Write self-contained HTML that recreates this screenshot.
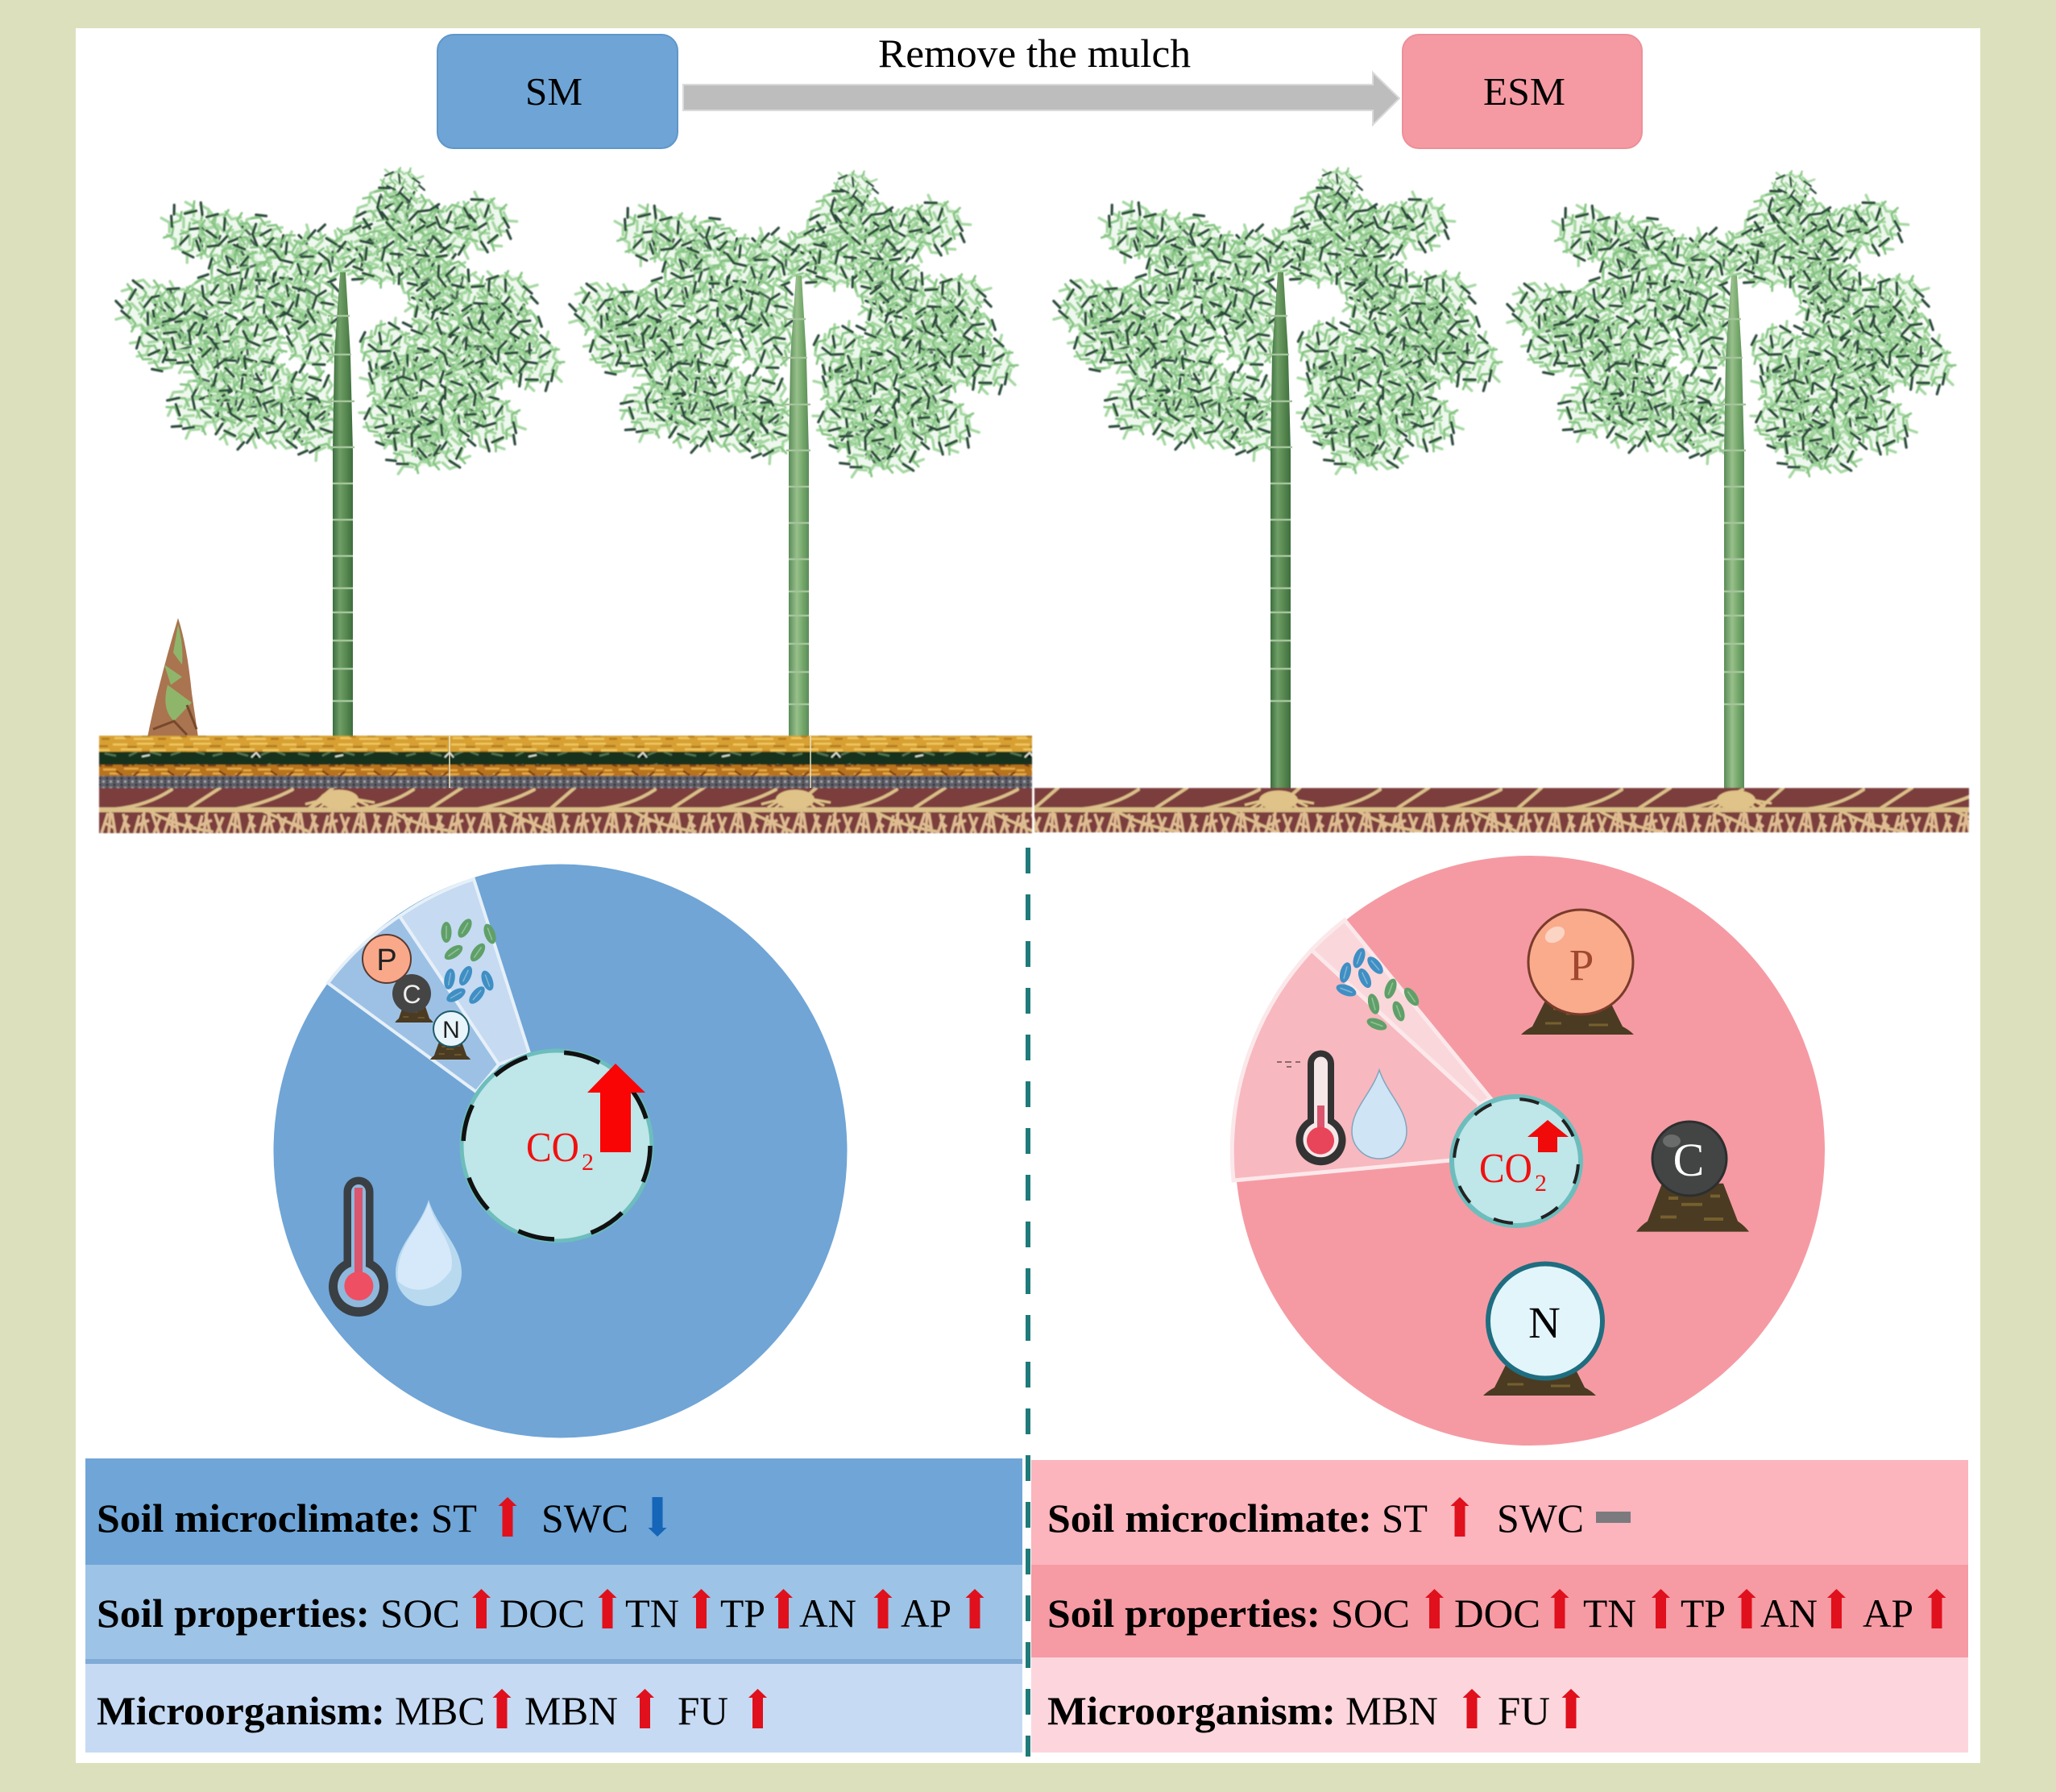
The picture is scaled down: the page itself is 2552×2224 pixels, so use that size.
<!DOCTYPE html>
<html lang="en"><head><meta charset="utf-8"><title>SM and ESM soil diagram</title>
<style>html,body{margin:0;padding:0;background:#dce0bc}svg{display:block}
text{font-family:"Liberation Serif",serif}
.b{font-weight:bold}.sf{font-family:"Liberation Sans",sans-serif}</style></head><body>
<svg xmlns="http://www.w3.org/2000/svg" width="2552" height="2224" viewBox="0 0 2552 2224">
<defs>
<filter id="bl" x="-5%" y="-5%" width="110%" height="110%"><feGaussianBlur stdDeviation=".7"/></filter>
<linearGradient id="tg" x1="0" x2="1" y1="0" y2="0"><stop offset="0" stop-color="#3c6d3e"/><stop offset=".35" stop-color="#6f9f67"/><stop offset=".7" stop-color="#55864e"/><stop offset="1" stop-color="#3c6d3e"/></linearGradient>
<linearGradient id="tg2" x1="0" x2="1" y1="0" y2="0"><stop offset="0" stop-color="#5a8b58"/><stop offset=".4" stop-color="#98c08c"/><stop offset=".7" stop-color="#74a76a"/><stop offset="1" stop-color="#5a8b58"/></linearGradient>
<pattern id="py" width="70" height="20" patternUnits="userSpaceOnUse"><rect width="70" height="20" fill="#d8a030"/><path stroke="#efc860" stroke-width="2.500" d="M0 4h18M30 3h22M10 10h26M46 11h20M2 16h14M26 17h24"/><path stroke="#b07a20" stroke-width="2.500" d="M18 7h12M50 6h14M36 13h10M14 14h8M56 17h10"/></pattern>
<pattern id="pd" width="240" height="16" patternUnits="userSpaceOnUse"><rect width="240" height="16" fill="#17321c"/><path stroke="#4f7450" stroke-width="2.500" d="M4 5l10 3M24 10l12-3M54 6l14 4M84 9l12-5M104 5l10 4M130 7l14 3M160 10l10-5M186 5l14 4M212 9l12-4"/><path stroke="#dfe5d6" stroke-width="2" d="M72 12l6-6l5 6M176 11l10-2"/></pattern>
<pattern id="po" width="64" height="14" patternUnits="userSpaceOnUse"><rect width="64" height="14" fill="#b8731f"/><path stroke="#e8ae44" stroke-width="2.500" d="M0 3h16M26 2h18M8 8h14M36 9h22M46 4h10"/><path stroke="#7a3c12" stroke-width="2.500" d="M16 5l8 5M44 6l-8 6M2 12h10M24 12h8M56 11l6 2"/></pattern>
<pattern id="pg" width="9" height="8" patternUnits="userSpaceOnUse"><rect width="9" height="8" fill="#5f5f68"/><circle cx="2.500" cy="2" r="1.600" fill="#a4a4aa"/><circle cx="7" cy="6" r="1.600" fill="#34343c"/><circle cx="7" cy="2" r="1" fill="#2e2e36"/></pattern>
<pattern id="pr" width="300" height="56" patternUnits="userSpaceOnUse" patternTransform="translate(123,978)"><rect width="300" height="56" fill="#7c3e3c"/><g fill="none" stroke="#dcc08a" stroke-linecap="round"><path stroke-width="6" d="M0 27H300"/><path stroke-width="4" d="M20 26Q60 22 90 2M110 26L150 0M170 26Q210 18 240 2M260 26L290 0"/><path stroke-width="3.500" d="M200 27Q230 40 260 54M60 27Q90 46 140 54"/></g></pattern>
<pattern id="pr2" width="78" height="26" patternUnits="userSpaceOnUse" patternTransform="translate(123,1008)"><path fill="none" stroke="#e0bc92" stroke-width="3.400" d="M3 26L11 1M12 26L14 0M20 26L16 1M27 26L35 4M36 26L30 2M8 14L20 20M30 12L38 18M44 26L50 4M52 26L56 0M60 26L54 2M68 26L76 6M74 26L66 2M48 16L62 10"/></pattern>
<path id="chv" d="M-30-24l10 6l10-6M-8-28l10 6l10-6M14-24l10 6l10-6M-34-6l10 6l10-6M-12-10l10 6l10-6M10-6l10 6l10-6M-28 10l10 6l10-6M-6 8l10 6l10-6M16 12l10 6l10-6M-20 26l10 6l10-6M4 26l10 6l10-6"/>
<g id="p1" fill="none" stroke-linecap="round">
<circle r="28" fill="#b5deb0" fill-opacity=".22" stroke="none"/>
<use href="#chv" stroke="#a6d8a2" stroke-width="3.400"/>
<use href="#chv" stroke="#86c483" stroke-width="3" transform="rotate(70) scale(.92)"/>
<path stroke="#2b4a3a" stroke-width="3.200" d="M-28-14l12-8M-6-20l4 14M18-18l12 6M-22 2l14 4M4 0l-6 14M24 4l-4 14M-14 20l12-6M12 22l14 6M-30 18l8 10M30-8l10 6"/>
</g>
<g id="crown" filter="url(#bl)">
<use href="#p1" transform="translate(497,232) rotate(10) scale(.75)"/><use href="#p1" transform="translate(478,268) rotate(130)"/><use href="#p1" transform="translate(512,275) rotate(200)"/>
<use href="#p1" transform="translate(600,275) rotate(35)"/><use href="#p1" transform="translate(560,285) rotate(95)"/><use href="#p1" transform="translate(522,312) rotate(300)"/>
<use href="#p1" transform="translate(628,368) rotate(15)"/><use href="#p1" transform="translate(590,380) rotate(250)"/><use href="#p1" transform="translate(600,410) rotate(95)"/><use href="#p1" transform="translate(638,412) rotate(200)"/>
<use href="#p1" transform="translate(665,447) rotate(75)"/><use href="#p1" transform="translate(622,447) rotate(160)"/><use href="#p1" transform="translate(578,440) rotate(20)"/><use href="#p1" transform="translate(538,435) rotate(280)"/>
<use href="#p1" transform="translate(612,522) rotate(50)"/><use href="#p1" transform="translate(568,510) rotate(190)"/><use href="#p1" transform="translate(524,522) rotate(110)"/><use href="#p1" transform="translate(484,518) rotate(330)"/><use href="#p1" transform="translate(550,548) rotate(10)"/><use href="#p1" transform="translate(580,480) rotate(305)"/><use href="#p1" transform="translate(515,552) rotate(155)"/>
<use href="#p1" transform="translate(520,468) rotate(140)"/><use href="#p1" transform="translate(482,432) rotate(65)"/><use href="#p1" transform="translate(488,476) rotate(225)"/><use href="#p1" transform="translate(540,395) rotate(175)"/>
<use href="#p1" transform="translate(440,312) rotate(305)"/><use href="#p1" transform="translate(478,322) rotate(170)"/><use href="#p1" transform="translate(530,345) rotate(40)"/><use href="#p1" transform="translate(555,352) rotate(120)"/>
<use href="#p1" transform="translate(238,288) rotate(240)"/><use href="#p1" transform="translate(278,292) rotate(20)"/><use href="#p1" transform="translate(322,302) rotate(135)"/><use href="#p1" transform="translate(362,322) rotate(80)"/><use href="#p1" transform="translate(395,318) rotate(285)"/><use href="#p1" transform="translate(295,335) rotate(55)"/>
<use href="#p1" transform="translate(183,382) rotate(195)"/><use href="#p1" transform="translate(225,385) rotate(30)"/><use href="#p1" transform="translate(265,375) rotate(110)"/><use href="#p1" transform="translate(200,425) rotate(320)"/><use href="#p1" transform="translate(240,425) rotate(150)"/><use href="#p1" transform="translate(282,420) rotate(60)"/>
<use href="#p1" transform="translate(320,372) rotate(255)"/><use href="#p1" transform="translate(360,375) rotate(5)"/><use href="#p1" transform="translate(392,382) rotate(175)"/><use href="#p1" transform="translate(322,425) rotate(90)"/><use href="#p1" transform="translate(388,425) rotate(215)"/>
<use href="#p1" transform="translate(245,505) rotate(145)"/><use href="#p1" transform="translate(290,488) rotate(340)"/><use href="#p1" transform="translate(335,478) rotate(45)"/><use href="#p1" transform="translate(380,492) rotate(270)"/><use href="#p1" transform="translate(300,518) rotate(100)"/><use href="#p1" transform="translate(392,530) rotate(125)"/><use href="#p1" transform="translate(270,458) rotate(210)"/><use href="#p1" transform="translate(350,522) rotate(15)"/>
</g>
<g id="trunk"><path d="M422 338L429 338L435 440L438 560L438 915L413 915L413 560L415 440Z"/><path stroke="#a4c49b" stroke-width="2.500" fill="none" d="M407 392h27M405 440h31M407 498h33M410 555h30M413 600h25M413 645h25M413 690h25M413 730h25M413 760h25M413 795h25M413 830h25M413 870h25"/></g>
<g id="ua"><path d="M0 0L11.500 11H6.500V49H-6.500V11H-11.500Z" fill="#e0101c"/></g>
<g id="mound"><path d="M-70 22Q-64 16 -56 12L-38-24H38L56 12Q64 16 70 22Z" fill="#4b3b22"/><path stroke="#75602f" stroke-width="3" d="M-40 8h20M-14-4h26M14 10h24M-30-10h12M22-12h12"/></g>
<g id="bug"><ellipse rx="13" ry="6.500"/><path stroke="#ffffff" stroke-opacity=".35" stroke-width="1.500" d="M-8 0H8"/></g>
<g id="tuft" fill="none" stroke="#dfc388" stroke-width="3"><ellipse cx="0" cy="0" rx="24" ry="12" fill="#dfc388" stroke="none"/><path d="M0-10L-34 10M0-10L-26 12M0-10L-14 14M0-10V14M0-10L14 14M0-10L26 12M0-10L36 8M-10-2L-42 6M10-2L44 4"/></g>
</defs>

<rect width="2552" height="2224" fill="#dce0bc"/>
<rect x="94" y="35" width="2364" height="2153" fill="#fff"/>

<!-- header -->
<rect x="543" y="43" width="298" height="141" rx="20" fill="#6fa5d6" stroke="#5f97c9" stroke-width="2"/>
<rect x="1741" y="43" width="297" height="141" rx="20" fill="#f59aa3" stroke="#ec8f99" stroke-width="2"/>
<path d="M848 105H1704V90L1737 122L1704 155V137H848Z" fill="#bdbdbd" stroke="#dadada" stroke-width="2"/>
<text x="652" y="130" font-size="49" textLength="71" lengthAdjust="spacingAndGlyphs">SM</text>
<text x="1841" y="130" font-size="49" textLength="102" lengthAdjust="spacingAndGlyphs">ESM</text>
<text x="1090" y="83" font-size="50" textLength="388" lengthAdjust="spacingAndGlyphs">Remove the mulch</text>

<!-- foliage and trunks -->
<use href="#crown"/>
<use href="#crown" transform="translate(563,4)"/>
<use href="#crown" transform="translate(1164,0)"/>
<use href="#crown" transform="translate(1727,4)"/>
<use href="#trunk" fill="url(#tg)"/>
<use href="#trunk" fill="url(#tg2)" transform="translate(566,4)"/>
<g transform="translate(1164,0)"><use href="#trunk" fill="url(#tg)"/><rect x="413" y="910" width="25" height="70" fill="url(#tg)"/></g>
<g transform="translate(1727,4)"><use href="#trunk" fill="url(#tg2)"/><rect x="413" y="910" width="25" height="66" fill="url(#tg2)"/></g>

<!-- bamboo shoot -->
<path d="M221 767Q232 800 238 860L246 915H183Q190 880 198 850Q208 810 221 767Z" fill="#a9744f"/>
<path d="M221 775Q228 800 226 825L215 810ZM208 850L238 872L216 895Q200 880 208 850ZM204 825L226 840L212 850Z" fill="#8fb56a"/>
<path d="M190 905L216 895L232 912M232 875L244 905" stroke="#76482c" stroke-width="3" fill="none"/>

<!-- ground -->
<g filter="url(#bl)">
<rect x="123" y="913" width="1158" height="20" fill="url(#py)"/>
<rect x="123" y="933" width="1158" height="16" fill="url(#pd)"/>
<rect x="123" y="949" width="1158" height="14" fill="url(#po)"/>
<rect x="123" y="963" width="1158" height="15" fill="url(#pg)"/>
<rect x="123" y="978" width="1158" height="56" fill="url(#pr)"/>
<rect x="123" y="1008" width="1158" height="26" fill="url(#pr2)"/>
<rect x="1284" y="978" width="1160" height="55" fill="url(#pr)"/>
<rect x="1284" y="1008" width="1160" height="25" fill="url(#pr2)"/>
<use href="#tuft" x="421" y="992"/><use href="#tuft" x="987" y="992"/><use href="#tuft" x="1587" y="993"/><use href="#tuft" x="2155" y="993"/>
</g>
<path d="M558 913V978M1006 913V978" stroke="#e8e4c8" stroke-width="1.500"/>

<!-- divider -->
<path d="M1276 1052V2180" stroke="#1f7a7a" stroke-width="6" stroke-dasharray="32 26"/>

<!-- left pie -->
<circle cx="695.500" cy="1428.500" r="356" fill="#70a5d6"/>
<path d="M591 1355L407 1220A356 356 0 0 1 496 1137L619 1321Z" fill="#9dc1e5" stroke="#e6f0f8" stroke-width="4"/>
<path d="M619 1321L496 1137A356 356 0 0 1 588 1091L657 1307Z" fill="#c6daf2" stroke="#e6f0f8" stroke-width="4"/>
<g fill="#5fa068">
<use href="#bug" transform="translate(554,1157) rotate(90)"/><use href="#bug" transform="translate(577,1152) rotate(-60)"/><use href="#bug" transform="translate(608,1159) rotate(70)"/><use href="#bug" transform="translate(563,1182) rotate(-35)"/><use href="#bug" transform="translate(593,1182) rotate(-55)"/></g>
<g fill="#3f8fc4">
<use href="#bug" transform="translate(558,1215) rotate(-80)"/><use href="#bug" transform="translate(578,1211) rotate(-65)"/><use href="#bug" transform="translate(605,1217) rotate(70)"/><use href="#bug" transform="translate(566,1235) rotate(-30)"/><use href="#bug" transform="translate(592,1235) rotate(-50)"/></g>
<circle cx="480" cy="1190" r="30" fill="#f9a98a" stroke="#5a3a30" stroke-width="2"/>
<text class="sf" x="480" y="1204" font-size="38" text-anchor="middle" fill="#222">P</text>
<use href="#mound" transform="translate(514,1258) scale(.34,.5)"/>
<circle cx="511" cy="1233" r="24" fill="#454545"/>
<text class="sf" x="511" y="1245" font-size="32" text-anchor="middle" fill="#eee">C</text>
<use href="#mound" transform="translate(559,1304) scale(.36,.5)"/>
<circle cx="560" cy="1277" r="22" fill="#e8f6fb" stroke="#1f5c6c" stroke-width="2"/>
<text class="sf" x="560" y="1288" font-size="30" text-anchor="middle" fill="#222">N</text>
<circle cx="691" cy="1422" r="118" fill="#bfe6e8" stroke="#6dbdbd" stroke-width="5"/>
<circle cx="691" cy="1422" r="116" fill="none" stroke="#111" stroke-width="5.500" stroke-dasharray="46 46.600"/>
<path d="M764 1320L801 1356H783V1430H745V1356H729Z" fill="#fa0505"/>
<text x="653" y="1441" font-size="52" fill="#f01010" textLength="66" lengthAdjust="spacingAndGlyphs">CO</text>
<text x="722" y="1452" font-size="30" fill="#f01010">2</text>
<path d="M426.500 1479a18.500 18.500 0 0 1 37 0V1565a37 37 0 1 1-37 0Z" fill="#3a3f44"/>
<path d="M436 1479a9 9 0 0 1 18 0V1572a26 26 0 1 1-18 0Z" fill="#8fb8dd"/>
<rect x="440" y="1474" width="10" height="110" fill="#d9566e"/>
<circle cx="445.400" cy="1596" r="18" fill="#ee4f63"/>
<path d="M532 1489C543 1525 573 1545 573 1580A41 41 0 0 1 491 1580C491 1545 521 1525 532 1489Z" fill="#b9d9ef"/>
<path d="M532 1492C541 1525 566 1546 560 1576C540 1606 510 1606 494 1590C490 1546 522 1525 532 1492Z" fill="#d5e9fa"/>

<!-- right pie -->
<circle cx="1899" cy="1428" r="366" fill="#f59aa3"/>
<path d="M1801 1440L1531 1465A368 368 0 0 1 1628 1179L1837 1371Z" fill="#f8b8bf" stroke="#fbe8ea" stroke-width="5"/>
<path d="M1837 1371L1628 1179A368 368 0 0 1 1669 1142L1850 1363Z" fill="#fad7da" stroke="#fbe8ea" stroke-width="5"/>
<g fill="#3f8fc4">
<use href="#bug" transform="translate(1670,1207) rotate(-75)"/><use href="#bug" transform="translate(1687,1189) rotate(-70)"/><use href="#bug" transform="translate(1707,1198) rotate(50)"/><use href="#bug" transform="translate(1694,1214) rotate(65)"/><use href="#bug" transform="translate(1671,1229) rotate(20)"/></g>
<g fill="#5fa068">
<use href="#bug" transform="translate(1726,1227) rotate(-70)"/><use href="#bug" transform="translate(1752,1237) rotate(55)"/><use href="#bug" transform="translate(1705,1246) rotate(75)"/><use href="#bug" transform="translate(1736,1255) rotate(70)"/><use href="#bug" transform="translate(1709,1271) rotate(20)"/></g>
<circle cx="1882" cy="1441" r="80" fill="#bfe6e8" stroke="#6dbdbd" stroke-width="6"/>
<circle cx="1882" cy="1441" r="77" fill="none" stroke="#222" stroke-width="4" stroke-dasharray="24.500 36" transform="rotate(3 1882 1441)"/>
<path d="M1921 1390L1947 1411H1933V1430H1909V1411H1896Z" fill="#f00a0a"/>
<text x="1836" y="1467" font-size="52" fill="#f01010" textLength="66" lengthAdjust="spacingAndGlyphs">CO</text>
<text x="1905" y="1478" font-size="30" fill="#f01010">2</text>
<path d="M1623 1320a16.500 16.500 0 0 1 33 0V1389a31 31 0 1 1-33 0Z" fill="#333"/>
<path d="M1631 1320a8.500 8.500 0 0 1 17 0V1394a22 22 0 1 1-17 0Z" fill="#f5e6e8"/>
<rect x="1635" y="1372" width="9" height="34" fill="#d9566e"/>
<circle cx="1639" cy="1415.600" r="17" fill="#e8455a"/>
<path d="M1712 1328C1722 1358 1746 1376 1746 1404A34 34 0 0 1 1678 1404C1678 1376 1702 1358 1712 1328Z" fill="#cfe5f6" stroke="#7fa6bf" stroke-width="1.500"/>
<path d="M1585 1318h6M1595 1318h8M1608 1318h6M1597 1324h6" stroke="#8a6a6a" stroke-width="2"/>
<!-- spheres right -->
<use href="#mound" transform="translate(1958,1262)"/>
<circle cx="1962" cy="1194" r="65" fill="#f9ab8c" stroke="#7a3b2a" stroke-width="3"/>
<ellipse cx="1930" cy="1160" rx="13" ry="9" fill="#fcd4c4" transform="rotate(-30 1930 1160)"/>
<text x="1963" y="1216" font-size="55" text-anchor="middle" fill="#a0472f">P</text>
<use href="#mound" transform="translate(2101,1500)scale(1,1.300)"/>
<circle cx="2097" cy="1438" r="46" fill="#434545" stroke="#2c2f2f" stroke-width="3"/>
<ellipse cx="2075" cy="1416" rx="11" ry="8" fill="#6a6c6c"/>
<text x="2096" y="1459" font-size="58" text-anchor="middle" fill="#fff">C</text>
<use href="#mound" transform="translate(1911,1710)"/>
<circle cx="1918" cy="1639.500" r="71" fill="#e2f5fb" stroke="#1f6d80" stroke-width="6"/>
<text x="1917" y="1660" font-size="55" text-anchor="middle" fill="#000">N</text>

<!-- tables -->
<rect x="106" y="1810" width="1163" height="132" fill="#6fa5d7"/>
<rect x="106" y="1942" width="1163" height="123" fill="#9dc3e6"/>
<rect x="106" y="2059" width="1163" height="6" fill="#80abd6"/>
<rect x="106" y="2065" width="1163" height="110" fill="#c6daf3"/>
<rect x="1280" y="1812" width="1163" height="130" fill="#fcb4bd"/>
<rect x="1280" y="1942" width="1163" height="115" fill="#f69aa3"/>
<rect x="1280" y="2057" width="1163" height="118" fill="#fdd6dd"/>

<g font-size="50">
<text class="b" x="120" y="1901" textLength="403" lengthAdjust="spacingAndGlyphs">Soil microclimate:</text>
<text x="535" y="1901" textLength="57" lengthAdjust="spacingAndGlyphs">ST</text>
<text x="672" y="1901" textLength="108" lengthAdjust="spacingAndGlyphs">SWC</text>
<text class="b" x="120" y="2019" textLength="339" lengthAdjust="spacingAndGlyphs">Soil properties:</text>
<text x="472" y="2019" textLength="99" lengthAdjust="spacingAndGlyphs">SOC</text>
<text x="620" y="2019" textLength="106" lengthAdjust="spacingAndGlyphs">DOC</text>
<text x="776" y="2019" textLength="67" lengthAdjust="spacingAndGlyphs">TN</text>
<text x="894" y="2019" textLength="56" lengthAdjust="spacingAndGlyphs">TP</text>
<text x="992" y="2019" textLength="71" lengthAdjust="spacingAndGlyphs">AN</text>
<text x="1118" y="2019" textLength="63" lengthAdjust="spacingAndGlyphs">AP</text>
<text class="b" x="120" y="2140" textLength="358" lengthAdjust="spacingAndGlyphs">Microorganism:</text>
<text x="490" y="2140" textLength="112" lengthAdjust="spacingAndGlyphs">MBC</text>
<text x="651" y="2140" textLength="116" lengthAdjust="spacingAndGlyphs">MBN</text>
<text x="841" y="2140" textLength="63" lengthAdjust="spacingAndGlyphs">FU</text>
<text class="b" x="1300" y="1901" textLength="403" lengthAdjust="spacingAndGlyphs">Soil microclimate:</text>
<text x="1715" y="1901" textLength="57" lengthAdjust="spacingAndGlyphs">ST</text>
<text x="1858" y="1901" textLength="108" lengthAdjust="spacingAndGlyphs">SWC</text>
<text class="b" x="1300" y="2019" textLength="339" lengthAdjust="spacingAndGlyphs">Soil properties:</text>
<text x="1652" y="2019" textLength="98" lengthAdjust="spacingAndGlyphs">SOC</text>
<text x="1805" y="2019" textLength="107" lengthAdjust="spacingAndGlyphs">DOC</text>
<text x="1965" y="2019" textLength="66" lengthAdjust="spacingAndGlyphs">TN</text>
<text x="2086" y="2019" textLength="56" lengthAdjust="spacingAndGlyphs">TP</text>
<text x="2185" y="2019" textLength="71" lengthAdjust="spacingAndGlyphs">AN</text>
<text x="2312" y="2019" textLength="63" lengthAdjust="spacingAndGlyphs">AP</text>
<text class="b" x="1300" y="2140" textLength="358" lengthAdjust="spacingAndGlyphs">Microorganism:</text>
<text x="1670" y="2140" textLength="115" lengthAdjust="spacingAndGlyphs">MBN</text>
<text x="1859" y="2140" textLength="65" lengthAdjust="spacingAndGlyphs">FU</text>
</g>
<use href="#ua" x="630" y="1858"/>
<path d="M816 1907L804.500 1896H809.500V1858H822.500V1896H827.500Z" fill="#1565b8"/>
<use href="#ua" x="597.500" y="1972"/><use href="#ua" x="754" y="1972"/><use href="#ua" x="870.500" y="1972"/><use href="#ua" x="972.500" y="1972"/><use href="#ua" x="1096" y="1972"/><use href="#ua" x="1210" y="1972"/>
<use href="#ua" x="623" y="2096"/><use href="#ua" x="800.500" y="2096"/><use href="#ua" x="940.500" y="2096"/>
<use href="#ua" x="1812" y="1858"/>
<rect x="1981" y="1876" width="43" height="14" fill="#7b7b7f"/>
<use href="#ua" x="1780.500" y="1972"/><use href="#ua" x="1936" y="1972"/><use href="#ua" x="2061.500" y="1972"/><use href="#ua" x="2168" y="1972"/><use href="#ua" x="2279.500" y="1972"/><use href="#ua" x="2404" y="1972"/>
<use href="#ua" x="1827" y="2096"/><use href="#ua" x="1950" y="2096"/>
</svg>
</body></html>
